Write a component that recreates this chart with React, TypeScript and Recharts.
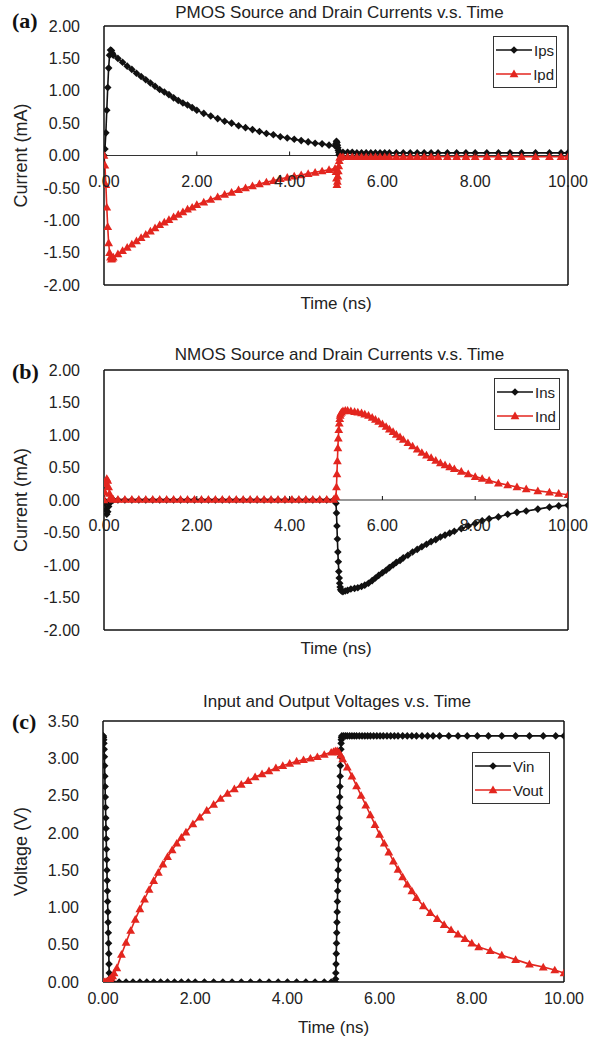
import React from "react";
import {
  Legend,
  Line,
  LineChart,
  ReferenceLine,
  XAxis,
  YAxis,
} from "recharts";

const FONT = '"Liberation Sans", Arial, sans-serif';
const BLACK = "#111111";
const RED = "#e3261f";

const timeTicks = [0, 2, 4, 6, 8, 10];
const currentTicks = [-2, -1.5, -1, -0.5, 0, 0.5, 1, 1.5, 2];
const voltageTicks = [0, 0.5, 1, 1.5, 2, 2.5, 3, 3.5];

// (a) PMOS
const pmosTime = [
  0, 0.02, 0.04, 0.06, 0.08, 0.1, 0.12, 0.14, 0.16, 0.18, 0.2,
  0.3, 0.4, 0.5, 0.6, 0.7, 0.8, 0.9, 1.0, 1.1, 1.2, 1.3, 1.4, 1.5, 1.6, 1.7, 1.8, 1.9, 2.0,
  2.15, 2.3, 2.45, 2.6, 2.75, 2.9, 3.05, 3.2, 3.35, 3.5, 3.65, 3.8, 3.95, 4.1, 4.25, 4.4, 4.55, 4.7, 4.85, 4.98,
  5.0, 5.01, 5.02, 5.03, 5.04, 5.05, 5.06, 5.07, 5.08, 5.1,
  5.15, 5.25, 5.35, 5.45, 5.55, 5.65, 5.75, 5.85, 5.95, 6.05, 6.15, 6.3, 6.45, 6.6, 6.75,
  6.9, 7.05, 7.2, 7.4, 7.6, 7.8, 8.0, 8.25, 8.5, 8.75, 9.0, 9.3, 9.6, 9.85, 10.0,
];
const ipsValues = [
  0, 0.1, 0.35, 0.7, 1.05, 1.35, 1.55, 1.63, 1.62, 1.58, 1.55,
  1.5, 1.44, 1.38, 1.33, 1.27, 1.22, 1.17, 1.12, 1.07, 1.02, 0.98, 0.94, 0.89, 0.85, 0.81, 0.78, 0.74, 0.7,
  0.65, 0.61, 0.57, 0.53, 0.5, 0.46, 0.43, 0.4, 0.37, 0.34, 0.32, 0.29, 0.27, 0.25, 0.23, 0.21, 0.19, 0.18, 0.16, 0.15,
  0.18, 0.22, 0.2, 0.16, 0.12, 0.08, 0.05, 0.02, 0.0, 0.03,
  0.05, 0.05, 0.05, 0.04, 0.04, 0.04, 0.04, 0.04, 0.04, 0.04, 0.04, 0.04, 0.04, 0.04, 0.04,
  0.04, 0.04, 0.04, 0.04, 0.04, 0.04, 0.04, 0.04, 0.04, 0.04, 0.04, 0.04, 0.04, 0.04, 0.04,
];
const ipdValues = [
  0, -0.15, -0.45, -0.8, -1.1, -1.35, -1.5, -1.57, -1.6, -1.59, -1.57,
  -1.52, -1.47, -1.42, -1.37, -1.32, -1.27, -1.22, -1.17, -1.12, -1.07, -1.03, -0.99, -0.95, -0.91, -0.87, -0.83, -0.8, -0.76,
  -0.72, -0.68, -0.64, -0.6, -0.57, -0.53, -0.5, -0.47, -0.44, -0.41, -0.39, -0.36, -0.34, -0.32, -0.3, -0.28, -0.26, -0.24, -0.22, -0.2,
  -0.25, -0.35, -0.45, -0.4, -0.32, -0.24, -0.16, -0.08, -0.03, -0.02,
  -0.02, -0.02, -0.02, -0.02, -0.02, -0.02, -0.02, -0.02, -0.02, -0.02, -0.02, -0.02, -0.02, -0.02, -0.02,
  -0.02, -0.02, -0.02, -0.02, -0.02, -0.02, -0.02, -0.02, -0.02, -0.02, -0.02, -0.02, -0.02, -0.02, -0.02,
];

// (b) NMOS
const nmosTime = [
  0, 0.02, 0.04, 0.06, 0.08, 0.1, 0.12, 0.14, 0.16, 0.2,
  0.3, 0.45, 0.6, 0.75, 0.9, 1.05, 1.2, 1.35, 1.5, 1.65, 1.8, 1.95, 2.1, 2.25, 2.4, 2.55,
  2.7, 2.85, 3.0, 3.15, 3.3, 3.45, 3.6, 3.75, 3.9, 4.05, 4.2, 4.35, 4.5, 4.65, 4.8, 4.95,
  5.0, 5.01, 5.02, 5.03, 5.04, 5.05, 5.06, 5.07, 5.08, 5.09, 5.1, 5.12, 5.15, 5.2,
  5.25, 5.32, 5.4, 5.47, 5.55, 5.62, 5.7, 5.78, 5.85, 5.92,
  6.0, 6.08, 6.15, 6.23, 6.3, 6.38, 6.45, 6.55, 6.65, 6.75,
  6.85, 6.95, 7.05, 7.15, 7.25, 7.35, 7.45, 7.55, 7.7, 7.85,
  8.0, 8.15, 8.3, 8.5, 8.7, 8.9, 9.1, 9.35, 9.6, 9.8, 10.0,
];
const insValues = [
  0, -0.05, -0.15, -0.22, -0.18, -0.1, -0.05, -0.02, -0.01, 0,
  0, 0, 0, 0, 0, 0, 0, 0, 0, 0, 0, 0, 0, 0, 0, 0,
  0, 0, 0, 0, 0, 0, 0, 0, 0, 0, 0, 0, 0, 0, 0, 0,
  -0.05, -0.2, -0.4, -0.6, -0.8, -0.95, -1.1, -1.2, -1.28, -1.34, -1.38, -1.4, -1.41, -1.4,
  -1.39, -1.37, -1.36, -1.35, -1.33, -1.31, -1.28, -1.24, -1.2, -1.16,
  -1.12, -1.08, -1.04, -1.0, -0.96, -0.93, -0.89, -0.85, -0.8, -0.76,
  -0.72, -0.68, -0.64, -0.61, -0.57, -0.54, -0.51, -0.48, -0.44, -0.4,
  -0.36, -0.32, -0.29, -0.26, -0.22, -0.19, -0.17, -0.14, -0.11, -0.09, -0.08,
];
const indValues = [
  0, 0.12, 0.25, 0.33, 0.3, 0.2, 0.1, 0.04, 0.02, 0.01,
  0.01, 0.01, 0.01, 0.01, 0.01, 0.01, 0.01, 0.01, 0.01, 0.01, 0.01, 0.01, 0.01, 0.01, 0.01, 0.01,
  0.01, 0.01, 0.01, 0.01, 0.01, 0.01, 0.01, 0.01, 0.01, 0.01, 0.01, 0.01, 0.01, 0.01, 0.01, 0.01,
  0.05, 0.2, 0.4, 0.6, 0.8, 0.95, 1.08, 1.18, 1.25, 1.3, 1.33, 1.35, 1.37, 1.38,
  1.38, 1.37, 1.36, 1.35, 1.34, 1.32, 1.3, 1.27, 1.24, 1.21,
  1.17, 1.13, 1.09, 1.05, 1.01, 0.97, 0.93, 0.88, 0.83, 0.78,
  0.73, 0.69, 0.65, 0.61, 0.57, 0.54, 0.51, 0.48, 0.44, 0.4,
  0.36, 0.33, 0.3, 0.26, 0.23, 0.2, 0.17, 0.14, 0.12, 0.1, 0.08,
];

// (c) voltages
const vinTime = [
  0, 0.005, 0.01, 0.015, 0.02, 0.025, 0.03, 0.035, 0.04, 0.045, 0.05, 0.055, 0.06, 0.065, 0.07,
  0.075, 0.08, 0.085, 0.09, 0.095, 0.1, 0.105, 0.11, 0.115, 0.12, 0.125, 0.13, 0.135, 0.14,
  0.2, 0.35, 0.5, 0.65, 0.8, 0.95, 1.1, 1.25, 1.4, 1.55, 1.7, 1.85, 2.0, 2.2,
  2.4, 2.6, 2.8, 3.0, 3.2, 3.4, 3.6, 3.8, 4.0, 4.2, 4.4, 4.6, 4.8, 4.95,
  5.04, 5.045, 5.05, 5.055, 5.06, 5.065, 5.07, 5.075, 5.08, 5.085, 5.09, 5.095, 5.1, 5.105, 5.11,
  5.115, 5.12, 5.125, 5.13, 5.135, 5.14, 5.145, 5.15, 5.155, 5.16, 5.165, 5.17, 5.175, 5.18,
  5.22, 5.26, 5.3, 5.35, 5.4, 5.45, 5.5, 5.56, 5.62, 5.68, 5.74, 5.8, 5.87, 5.94, 6.01, 6.08,
  6.16, 6.24, 6.32, 6.4, 6.5, 6.6, 6.7, 6.8, 6.92, 7.04, 7.16, 7.3, 7.5, 7.7, 7.9, 8.12,
  8.36, 8.65, 8.95, 9.25, 9.55, 9.82, 10.0,
];
const vinValues = [
  3.3, 3.3, 3.28, 3.25, 3.2, 3.12, 3.02, 2.9, 2.76, 2.62, 2.48, 2.34, 2.2, 2.06, 1.92,
  1.78, 1.64, 1.5, 1.36, 1.22, 1.08, 0.94, 0.8, 0.66, 0.52, 0.38, 0.24, 0.12, 0.04,
  0, 0, 0, 0, 0, 0, 0, 0, 0, 0, 0, 0, 0, 0,
  0, 0, 0, 0, 0, 0, 0, 0, 0, 0, 0, 0, 0, 0,
  0, 0.04, 0.12, 0.24, 0.38, 0.52, 0.66, 0.8, 0.94, 1.08, 1.22, 1.36, 1.5, 1.64, 1.78,
  1.92, 2.06, 2.2, 2.34, 2.48, 2.62, 2.76, 2.9, 3.02, 3.12, 3.2, 3.25, 3.28, 3.3,
  3.3, 3.3, 3.3, 3.3, 3.3, 3.3, 3.3, 3.3, 3.3, 3.3, 3.3, 3.3, 3.3, 3.3, 3.3, 3.3,
  3.3, 3.3, 3.3, 3.3, 3.3, 3.3, 3.3, 3.3, 3.3, 3.3, 3.3, 3.3, 3.3, 3.3, 3.3, 3.3,
  3.3, 3.3, 3.3, 3.3, 3.3, 3.3, 3.3,
];
const voutTime = [
  0, 0.03, 0.06, 0.09, 0.12, 0.15, 0.18, 0.21, 0.24,
  0.3, 0.4, 0.5, 0.6, 0.7, 0.8, 0.9, 1.0, 1.1, 1.2, 1.3, 1.4, 1.5, 1.6, 1.7, 1.8,
  1.95, 2.1, 2.25, 2.4, 2.55, 2.7, 2.85, 3.0, 3.15, 3.3, 3.45, 3.6, 3.75, 3.9, 4.05, 4.2,
  4.35, 4.5, 4.65, 4.8, 4.95,
  5.0, 5.04, 5.08, 5.12, 5.16, 5.2,
  5.3, 5.4, 5.5, 5.6, 5.7, 5.8, 5.9, 6.0, 6.1, 6.2, 6.3, 6.4, 6.5, 6.6, 6.7, 6.8,
  6.95, 7.1, 7.25, 7.4, 7.55, 7.7, 7.85, 8.0, 8.15, 8.4, 8.65, 8.95, 9.25, 9.55, 9.8, 10.0,
];
const voutValues = [
  0, 0, 0, 0.01, 0.02, 0.04, 0.06, 0.08, 0.12,
  0.19, 0.37, 0.53, 0.69, 0.84, 0.98, 1.11, 1.24, 1.36, 1.47, 1.58, 1.68, 1.77, 1.86, 1.94, 2.01,
  2.12, 2.21, 2.3, 2.38, 2.46, 2.53, 2.59, 2.65, 2.7, 2.75, 2.79, 2.83, 2.87, 2.9, 2.93, 2.96,
  2.98, 3.0, 3.02, 3.05, 3.08,
  3.09, 3.1, 3.1, 3.08, 3.04, 2.99,
  2.88, 2.76, 2.63, 2.5, 2.37, 2.24, 2.11, 1.98, 1.86, 1.74, 1.62, 1.51, 1.41, 1.31, 1.22, 1.13,
  1.02, 0.93, 0.85, 0.77, 0.7, 0.64, 0.58, 0.52, 0.47, 0.42, 0.36, 0.3, 0.24, 0.2, 0.16, 0.12,
];

const zip = (t: number[], v: number[]) => t.map((x, i) => ({ t: x, v: v[i] }));

const diamondPoints = (cx: number, cy: number, r: number) =>
  `${cx},${cy - r} ${cx + r},${cy} ${cx},${cy + r} ${cx - r},${cy}`;
const trianglePoints = (cx: number, cy: number, r: number) =>
  `${cx},${cy - r} ${cx + r},${cy + r * 0.75} ${cx - r},${cy + r * 0.75}`;

const diamondDot = (props: any) => {
  const { cx, cy, index } = props;
  if (cx == null || cy == null) return <g key={`d${index}`} />;
  return <polygon key={`d${index}`} points={diamondPoints(cx, cy, 3.8)} fill={BLACK} />;
};

const triangleDot = (props: any) => {
  const { cx, cy, index } = props;
  if (cx == null || cy == null) return <g key={`t${index}`} />;
  return <polygon key={`t${index}`} points={trianglePoints(cx, cy, 4.4)} fill={RED} />;
};

const TimeTick = (props: any) => {
  const { x, y, payload, lift, gap } = props;
  const zeroY = y - lift;
  const inner = lift > 0 && payload.value > 0 && payload.value < 10;
  return (
    <g>
      {inner && <line x1={x} y1={zeroY} x2={x} y2={zeroY - 4} stroke={BLACK} strokeWidth={1} />}
      <text
        x={x}
        y={zeroY + gap}
        textAnchor="middle"
        dominantBaseline="central"
        fontSize={16}
        fill="#222"
        fontFamily={FONT}
      >
        {payload.value.toFixed(2)}
      </text>
    </g>
  );
};

const XTitle = (props: any) => {
  const { viewBox, gap } = props;
  return (
    <text
      x={viewBox.x + viewBox.width / 2}
      y={viewBox.y + gap}
      textAnchor="middle"
      dominantBaseline="central"
      fontSize={17}
      fill="#222"
      fontFamily={FONT}
    >
      Time (ns)
    </text>
  );
};

const YTitle = (props: any) => {
  const { viewBox, text } = props;
  const cx = 21;
  const cy = viewBox.y + viewBox.height / 2;
  return (
    <text
      x={cx}
      y={cy}
      transform={`rotate(-90 ${cx} ${cy})`}
      textAnchor="middle"
      dominantBaseline="central"
      fontSize={18}
      fill="#222"
      fontFamily={FONT}
    >
      {text}
    </text>
  );
};

const LegendBox = (props: any) => {
  // black series first, as in the original legend
  const items = [...(props.payload || [])].sort(
    (a: any, b: any) => (a.color === RED ? 1 : 0) - (b.color === RED ? 1 : 0)
  );
  return (
    <div
      style={{
        border: "1.5px solid #333",
        background: "#fff",
        padding: "1px 2px",
        fontFamily: FONT,
        fontSize: 15,
        color: "#222",
      }}
    >
      {items.map((it: any) => (
        <div key={it.value} style={{ display: "flex", alignItems: "center", height: 24 }}>
          <svg width={36} height={12} style={{ display: "block" }}>
            <line x1={0} y1={6} x2={36} y2={6} stroke={it.color} strokeWidth={1.5} />
            <polygon
              points={it.color === RED ? trianglePoints(18, 6, 4.4) : diamondPoints(18, 6, 3.8)}
              fill={it.color}
            />
          </svg>
          <span style={{ marginLeft: 2 }}>{it.value}</span>
        </div>
      ))}
    </div>
  );
};

type Series = { name: string; data: { t: number; v: number }[]; color: string };

type PanelProps = {
  top: number;
  height: number;
  plotTop: number;
  plotBottom: number;
  plotLeft: number;
  plotRight: number;
  yDomain: [number, number];
  yTicks: number[];
  zeroLift: number;
  xLabelGap: number;
  xTitleGap: number;
  title: string;
  titleY: number;
  letter: string;
  letterY: number;
  yTitle: string;
  series: Series[];
  legend: { left: number; top: number; width: number };
  zeroLine: boolean;
};

const Panel = (p: PanelProps) => {
  // axes take 1px each so that they are drawn; margins make up the rest
  const margin = {
    top: p.plotTop - 1,
    right: 590 - p.plotRight - 1,
    bottom: p.height - p.plotBottom - 1,
    left: 0,
  };
  const plotWidth = p.plotRight - p.plotLeft;
  return (
    <div style={{ position: "absolute", left: 0, top: p.top, width: 590, height: p.height }}>
      <div
        style={{
          position: "absolute",
          left: p.plotLeft + 4,
          width: plotWidth,
          top: p.titleY - 11,
          textAlign: "center",
          fontFamily: FONT,
          fontSize: 17,
          lineHeight: "22px",
          color: "#222",
          whiteSpace: "nowrap",
        }}
      >
        {p.title}
      </div>
      <div
        style={{
          position: "absolute",
          left: 12,
          top: p.letterY - 14,
          fontFamily: '"Liberation Serif", "Times New Roman", serif',
          fontWeight: "bold",
          fontSize: 22,
          lineHeight: "28px",
          color: "#111",
        }}
      >
        {p.letter}
      </div>
      <LineChart width={590} height={p.height} margin={margin}>
        <XAxis
          type="number"
          dataKey="t"
          domain={[0, 10]}
          ticks={timeTicks}
          interval={0}
          height={1}
          tickSize={0}
          tickMargin={0}
          tickLine={false}
          axisLine={{ stroke: BLACK, strokeWidth: 1.5 }}
          tick={<TimeTick lift={p.zeroLift} gap={p.xLabelGap} />}
          label={<XTitle gap={p.xTitleGap} />}
          allowDataOverflow
        />
        <XAxis
          xAxisId="top"
          orientation="top"
          type="number"
          domain={[0, 10]}
          height={1}
          tick={false}
          tickLine={false}
          axisLine={{ stroke: BLACK, strokeWidth: 1.5 }}
        />
        <YAxis
          type="number"
          domain={p.yDomain}
          ticks={p.yTicks}
          interval={0}
          width={p.plotLeft}
          tickSize={0}
          tickMargin={24}
          tickLine={false}
          axisLine={{ stroke: BLACK, strokeWidth: 1.5 }}
          tick={{ fontSize: 16, fill: "#222", fontFamily: FONT }}
          tickFormatter={(v: number) => v.toFixed(2)}
          label={<YTitle text={p.yTitle} />}
          allowDataOverflow
        />
        <YAxis
          yAxisId="right"
          orientation="right"
          type="number"
          domain={p.yDomain}
          ticks={p.yTicks}
          interval={0}
          width={1}
          mirror
          tickSize={4}
          tick={false}
          tickLine={{ stroke: BLACK }}
          axisLine={{ stroke: BLACK, strokeWidth: 1.5 }}
        />
        {p.zeroLine && <ReferenceLine y={0} stroke="#333" strokeWidth={1.2} />}
        {p.series.map((s) => (
          <Line
            key={s.name}
            name={s.name}
            data={s.data}
            dataKey="v"
            type="linear"
            stroke={s.color}
            strokeWidth={1.6}
            dot={s.color === RED ? triangleDot : diamondDot}
            activeDot={false}
            isAnimationActive={false}
          />
        ))}
        <Legend
          layout="vertical"
          align="center"
          verticalAlign="middle"
          wrapperStyle={{ left: p.legend.left, top: p.legend.top, width: p.legend.width }}
          content={<LegendBox />}
        />
      </LineChart>
    </div>
  );
};

export default function App() {
  return (
    <div
      style={{
        position: "absolute",
        left: 0,
        top: 0,
        width: 590,
        height: 1042,
        background: "#fff",
      }}
    >
      <Panel
        top={0}
        height={330}
        plotTop={26}
        plotBottom={285}
        plotLeft={104}
        plotRight={567}
        yDomain={[-2, 2]}
        yTicks={currentTicks}
        zeroLift={129.5}
        xLabelGap={26}
        xTitleGap={18}
        title="PMOS Source and Drain Currents v.s. Time"
        titleY={13}
        letter="(a)"
        letterY={21}
        yTitle="Current (mA)"
        zeroLine
        legend={{ left: 493, top: 36, width: 64 }}
        series={[
          { name: "Ips", data: zip(pmosTime, ipsValues), color: BLACK },
          { name: "Ipd", data: zip(pmosTime, ipdValues), color: RED },
        ]}
      />
      <Panel
        top={330}
        height={330}
        plotTop={40}
        plotBottom={300}
        plotLeft={104}
        plotRight={567}
        yDomain={[-2, 2]}
        yTicks={currentTicks}
        zeroLift={130}
        xLabelGap={25}
        xTitleGap={18}
        title="NMOS Source and Drain Currents v.s. Time"
        titleY={25}
        letter="(b)"
        letterY={42}
        yTitle="Current (mA)"
        zeroLine
        legend={{ left: 494, top: 48, width: 66 }}
        series={[
          { name: "Ins", data: zip(nmosTime, insValues), color: BLACK },
          { name: "Ind", data: zip(nmosTime, indValues), color: RED },
        ]}
      />
      <Panel
        top={660}
        height={382}
        plotTop={61}
        plotBottom={322}
        plotLeft={103}
        plotRight={563}
        yDomain={[0, 3.5]}
        yTicks={voltageTicks}
        zeroLift={0}
        xLabelGap={16}
        xTitleGap={45}
        title="Input and Output Voltages v.s. Time"
        titleY={42}
        letter="(c)"
        letterY={62}
        yTitle="Voltage (V)"
        zeroLine={false}
        legend={{ left: 472, top: 92, width: 78 }}
        series={[
          { name: "Vin", data: zip(vinTime, vinValues), color: BLACK },
          { name: "Vout", data: zip(voutTime, voutValues), color: RED },
        ]}
      />
    </div>
  );
}
